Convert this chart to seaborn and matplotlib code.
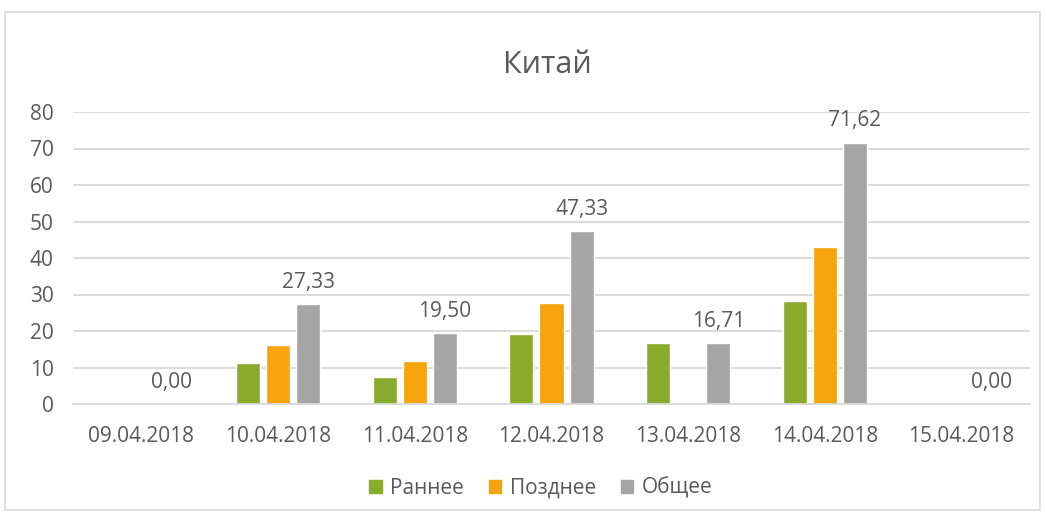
import pandas as pd
import seaborn as sns
import matplotlib.pyplot as plt
from matplotlib.patches import Rectangle

dates = ['09.04.2018', '10.04.2018', '11.04.2018', '12.04.2018',
         '13.04.2018', '14.04.2018', '15.04.2018']
early = [0, 11.1, 7.5, 19.1, 16.71, 28.2, 0]
late = [0, 16.3, 11.7, 27.8, 0, 42.9, 0]
total = [0, 27.33, 19.50, 47.33, 16.71, 71.62, 0]
series = ['Раннее', 'Позднее', 'Общее']
colors = ['#8AAA2E', '#F5A40B', '#A5A5A5']

df = pd.DataFrame({
    'date': dates * 3,
    'value': early + late + total,
    'series': [s for s in series for _ in dates],
})

sns.set_style('white')
plt.rcParams['font.family'] = ['Open Sans', 'DejaVu Sans']
txt = '#595959'

fig = plt.figure(figsize=(10.46, 5.17), dpi=100)
ax = fig.add_axes([73 / 1046, 1 - 404 / 517, 957 / 1046, 292 / 517])

sns.barplot(data=df, x='date', y='value', hue='series', hue_order=series,
            palette=colors, width=0.66, gap=0.2, ax=ax, legend=False,
            saturation=1, errorbar=None)

ax.set_ylim(0, 80)
ax.set_xlim(-0.5, len(dates) - 0.5)
ax.set_yticks(range(0, 81, 10))
ax.yaxis.grid(True, color='#D9D9D9', linewidth=1.3)
ax.set_axisbelow(True)
for s in ['top', 'right', 'left']:
    ax.spines[s].set_visible(False)
ax.spines['bottom'].set_color('#D9D9D9')
ax.spines['bottom'].set_linewidth(1.3)
ax.set_xlabel('')
ax.set_ylabel('')
ax.tick_params(axis='both', which='major', length=0, labelsize=15, colors=txt)
ax.tick_params(axis='x', pad=16)
ax.tick_params(axis='y', pad=14)
ax.set_xticks([i - 0.5 for i in range(len(dates) + 1)], minor=True)
ax.tick_params(axis='x', which='minor', length=7, width=1.3, color='#D9D9D9')

labels = [f'{v:.2f}'.replace('.', ',') for v in total]
ax.bar_label(ax.containers[2], labels=labels, padding=8, fontsize=15, color=txt)

fig.text(0.523, 1 - 65 / 517, 'Китай', ha='center', va='center', fontsize=22, color=txt)

handles = [Rectangle((0, 0), 1, 1, color=c) for c in colors]
fig.legend(handles, series, loc='center', bbox_to_anchor=(0.517, 1 - 488 / 517),
           ncol=3, frameon=False, fontsize=15, labelcolor=txt,
           handlelength=0.6, handleheight=0.6, handletextpad=0.4, columnspacing=1.2)

fig.patches.append(Rectangle((5 / 1046, 1 - 510 / 517), 1035 / 1046, 498 / 517,
                             transform=fig.transFigure, fill=False,
                             edgecolor='#D9D9D9', linewidth=1.2))

fig.savefig('out.png', dpi=100)
